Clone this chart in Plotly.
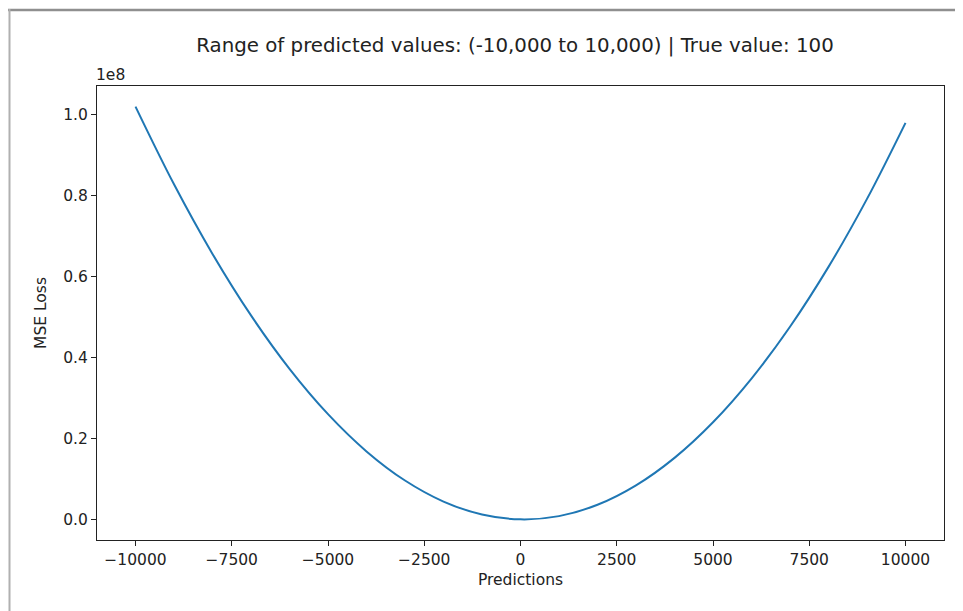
import plotly.graph_objects as go

# Predictions (x) and MSE loss (in units of 1e8)
predictions = [-10000, -9000, -8000, -7000, -6000, -5000, -4000, -3000, -2000, -1000,
               0, 1000, 2000, 3000, 4000, 5000, 6000, 7000, 8000, 9000, 10000]
mse_loss_1e8 = [1.020, 0.828, 0.656, 0.504, 0.372, 0.260, 0.168, 0.096, 0.044, 0.012,
                0.000, 0.008, 0.036, 0.084, 0.152, 0.240, 0.348, 0.476, 0.624, 0.792, 0.980]

x_ticks = [-10000, -7500, -5000, -2500, 0, 2500, 5000, 7500, 10000]
x_tick_labels = ["\u221210000", "\u22127500", "\u22125000", "\u22122500", "0",
                 "2500", "5000", "7500", "10000"]
y_ticks = [0.0, 0.2, 0.4, 0.6, 0.8, 1.0]
y_tick_labels = ["0.0", "0.2", "0.4", "0.6", "0.8", "1.0"]

# page body has an 8px margin; figure pixel = screen pixel - 8
OFF = 8
W, H = 963 - OFF, 611 - OFF
ml, mt = 97 - OFF, 86 - OFF
mr = W - (944 - OFF)
mb = H - (540 - OFF)
pw, ph = W - ml - mr, H - mt - mb

def px_to_paper_x(px):
    return (px - OFF - ml) / pw

def px_to_paper_y(py):
    return 1 - (py - OFF - mt) / ph

fig = go.Figure()
fig.add_trace(go.Scatter(
    x=predictions, y=mse_loss_1e8, mode="lines",
    line=dict(color="#1f77b4", width=2, shape="spline", smoothing=1.0),
    showlegend=False,
))

font = "DejaVu Sans, sans-serif"
TS = 15.5
axis_common = dict(
    showline=True, linecolor="#222", linewidth=1, mirror=True,
    ticks="outside", ticklen=5, tickwidth=1, tickcolor="#222",
    showgrid=False, zeroline=False,
    tickfont=dict(family=font, size=TS, color="#222"),
)

fig.update_layout(
    width=W, height=H,
    margin=dict(l=ml, r=mr, t=mt, b=mb, pad=0),
    paper_bgcolor="white", plot_bgcolor="white",
    title=dict(text="Range of predicted values: (-10,000 to 10,000) | True value: 100",
               x=(515 - OFF) / W, xanchor="center",
               y=1 - (45 - OFF) / H, yanchor="middle",
               font=dict(family=font, size=19.8, color="#222")),
    xaxis=dict(range=[-11000, 11000], tickvals=x_ticks, ticktext=x_tick_labels,
               title=dict(text="Predictions", font=dict(family=font, size=TS, color="#222"),
                          standoff=6),
               **axis_common),
    yaxis=dict(range=[-0.051, 1.071], tickvals=y_ticks, ticktext=y_tick_labels,
               title=dict(text="MSE Loss", font=dict(family=font, size=TS, color="#222"),
                          standoff=12),
               **axis_common),
)

fig.add_annotation(text="1e8", xref="paper", yref="paper", x=0, y=1,
                   xanchor="left", yanchor="bottom", showarrow=False,
                   font=dict(family=font, size=TS, color="#222"), xshift=-3, yshift=0)

# Screenshot frame lines (top and left)
fig.add_shape(type="line", xref="paper", yref="paper",
              x0=px_to_paper_x(8), x1=px_to_paper_x(975),
              y0=px_to_paper_y(10), y1=px_to_paper_y(10),
              line=dict(color="#8f8f8f", width=2.5))
fig.add_shape(type="line", xref="paper", yref="paper",
              x0=px_to_paper_x(9.5), x1=px_to_paper_x(9.5),
              y0=px_to_paper_y(9), y1=px_to_paper_y(620),
              line=dict(color="#b0b0b0", width=2))

fig.write_html("out.html")
